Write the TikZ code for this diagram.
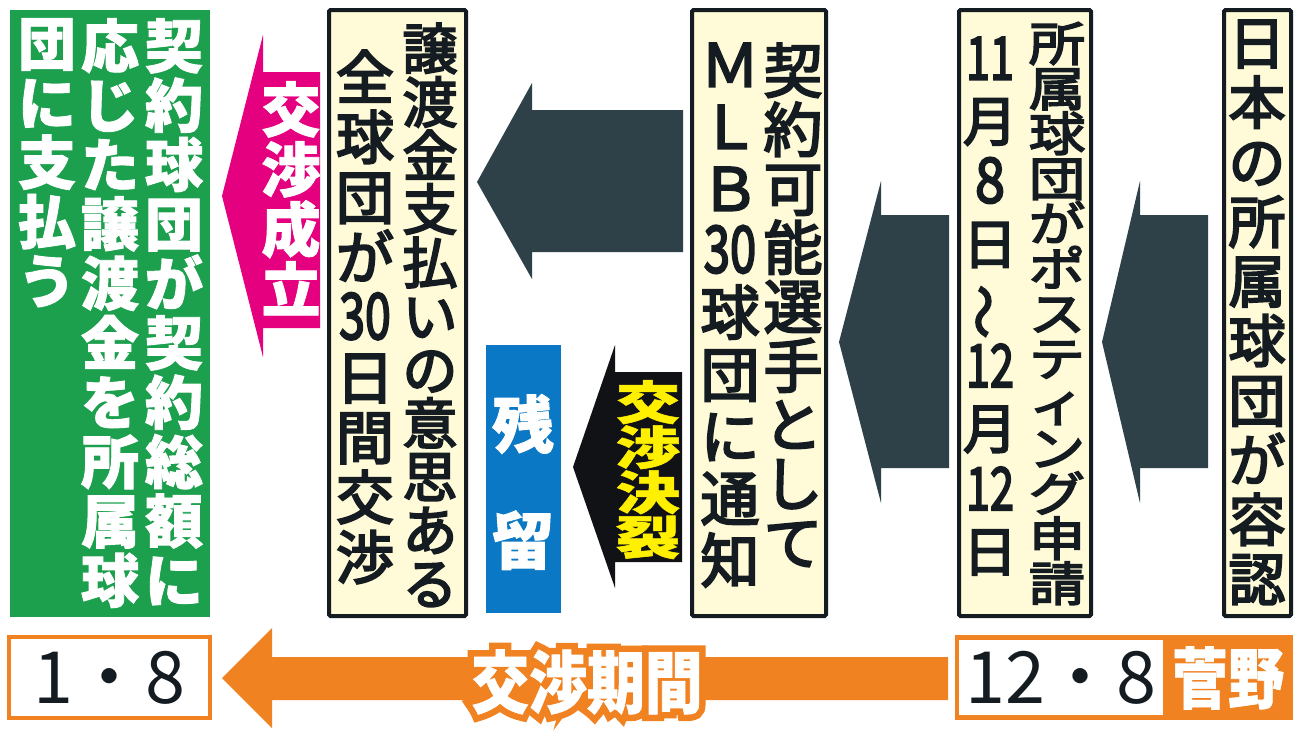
\documentclass[tikz,border=0pt]{standalone}
\usepackage{fontspec}
\usepackage{graphicx}
\usetikzlibrary{fit}
\setmainfont{Noto Sans CJK JP}
\newfontfamily\jpmid{Noto Sans CJK JP}[FakeBold=3.5]
\newfontfamily\jpflat{Noto Sans CJK JP}[FakeBold=3.5,FakeStretch=1.2]
\newfontfamily\jpheavy{Noto Sans CJK JP}[FakeBold=1.5]
\newfontfamily\jpheavyflat{Noto Sans CJK JP}[FakeBold=1.2,FakeStretch=1.4]
\newfontfamily\jpnarrow{Noto Sans CJK JP}[FakeBold=1,FakeStretch=0.85]
\newfontfamily\jphalo{Noto Sans CJK JP}[FakeBold=20,FakeStretch=0.85]

\definecolor{ink}{RGB}{20,28,34}
\definecolor{cream}{RGB}{255,250,215}
\definecolor{slate}{RGB}{46,65,72}
\definecolor{grn}{RGB}{28,160,78}
\definecolor{pnk}{RGB}{228,0,127}
\definecolor{blu}{RGB}{10,120,196}
\definecolor{ylw}{RGB}{255,240,0}
\definecolor{org}{RGB}{240,130,34}
\definecolor{blk}{RGB}{16,18,22}

% vertical text: one character (or braced group) per line
\makeatletter
\newcommand\tategaki[1]{\vbox{\lineskiplimit=-\maxdimen
  \@tfor\tg@ch:=#1\do{\hbox to 1.6em{\hss\tg@ch\hss}}}}
\makeatother
\newcommand\tcy[1]{\scalebox{0.8}[1.1]{#1}}
\newcommand\tall[1]{\scalebox{1}[1.15]{#1}}

\tikzset{
  panel/.style={draw=ink, line width=4pt, fill=cream, rounded corners=1.5pt, inner sep=0pt},
  plate/.style={inner sep=0pt, draw=none},
  tate/.style={inner sep=0pt, anchor=north, text=ink},
}

\begin{document}
\begin{tikzpicture}[x=1pt,y=-1pt]
    \useasboundingbox (0,0) rectangle (1300,736);
    \fill[white] (0,0) rectangle (1300,736);

    % boxes
    \node[plate, fill=grn, fit={(10,10) (210,617)}] (pay) {};
    \node[panel, fit={(329,10) (466,616)}] (bid) {};
    \node[panel, fit={(692,10) (826,616)}] (mlb) {};
    \node[panel, fit={(959,10) (1091,616)}] (post) {};
    \node[panel, fit={(1224,10) (1291,616)}] (npb) {};
    \node[plate, fill=blu, fit={(486,345) (561,613)}] (stay) {};

    % block arrows
    \fill[pnk] (320,72) -- (263,72) -- (263,35) -- (222,196) -- (263,357) -- (263,328) -- (320,328) -- cycle;
    \fill[slate] (683,110) -- (532,110) -- (532,83) -- (477,182) -- (532,279) -- (532,252) -- (683,252) -- cycle;
    \fill[blk] (682,372) -- (615,372) -- (615,345) -- (573,467) -- (615,588) -- (615,562) -- (682,562) -- cycle;
    \fill[slate] (949,215) -- (881,215) -- (881,181) -- (839,342) -- (881,503) -- (881,468) -- (949,468) -- cycle;
    \fill[slate] (1208,215) -- (1140,215) -- (1140,181) -- (1102,342) -- (1140,503) -- (1140,468) -- (1208,468) -- cycle;
    \fill[org] (948,657) -- (272,657) -- (272,628) -- (222,678) -- (272,728) -- (272,700) -- (948,700) -- cycle;

    % texts
    \node[tate, text=white, font=\jpheavy\bfseries\fontsize{58}{59.4}\selectfont] (pay1) at (174,18) {\tategaki{契約球団が契約総額に}};
    \node[tate, text=white, font=\jpheavy\bfseries\fontsize{58}{59.4}\selectfont] (pay2) at (110,18) {\tategaki{応じた譲渡金を所属球}};
    \node[tate, text=white, font=\jpheavy\bfseries\fontsize{58}{59.4}\selectfont] (pay3) at (47,18) {\tategaki{団に支払う}};
    \node[tate, text=white, font=\jpheavy\bfseries\fontsize{59}{60}\selectfont] (deal) at (291,81) {\tategaki{交渉成立}};

    \node[tate, font=\jpmid\fontsize{55}{53.5}\selectfont] (bid1) at (430,23) {\tategaki{譲渡金支払いの意思ある}};
    \node[tate, font=\jpmid\fontsize{58}{60}\selectfont] (bid2) at (365,50) {\tategaki{全球団が{\tcy{30}}日間交渉}};
    \node[tate, font=\jpmid\fontsize{59}{59}\selectfont] (mlb1) at (793,43) {\tategaki{契約可能選手として}};
    \node[tate, font=\jpmid\fontsize{59}{62}\selectfont] (mlb2) at (730,43) {\tategaki{ＭＬＢ{\tcy{30}}球団に通知}};
    \node[tate, font=\jpflat\fontsize{47}{45}\selectfont] (post1) at (1057,22) {\tategaki{所属球団がポスティング申請}};
    \node[tate, font=\jpmid\fontsize{54}{61.5}\selectfont] (post2) at (990,37) {\tategaki{{\tcy{11}}月{\tall{8}}日{\rotatebox[origin=c]{90}{～}}{\tcy{12}}月{\tcy{12}}日}};
    \node[tate, font=\jpmid\fontsize{57}{59.6}\selectfont] (npb1) at (1257,20) {\tategaki{日本の所属球団が容認}};

    \node[tate, text=white, font=\jpheavy\bfseries\fontsize{62}{116}\selectfont] (stay1) at (523,394) {\tategaki{残留}};
    \node[tate, text=ylw, font=\jpheavyflat\bfseries\fontsize{46}{45}\selectfont] (split) at (648,380) {\tategaki{交渉決裂}};

    % dates
    \node[plate, draw=org, line width=3.5pt, fill=white, fit={(9,637) (210,718)}] (jan) {};
    \node[plate, fill=org, fit={(955,635) (1293,720)}] (dec) {};
    \node[plate, fill=white, fit={(959,640) (1163,715)}] (decin) {};
    \node[text=ink, font=\fontsize{72}{72}\selectfont] (jan1) at (jan.center) {1・8};
    \node[text=ink, font=\fontsize{72}{72}\selectfont] (dec1) at (decin.center) {12・8};
    \node[text=white, font=\jpnarrow\bfseries\fontsize{66}{66}\selectfont] (name) at (1228,678) {菅野};
    \node[text=org, font=\jphalo\bfseries\fontsize{68}{68}\selectfont] (halo) at (587,682) {交渉期間};
    \node[text=white, font=\jpnarrow\bfseries\fontsize{68}{68}\selectfont] (period) at (587,682) {交渉期間};
\end{tikzpicture}
\end{document}
